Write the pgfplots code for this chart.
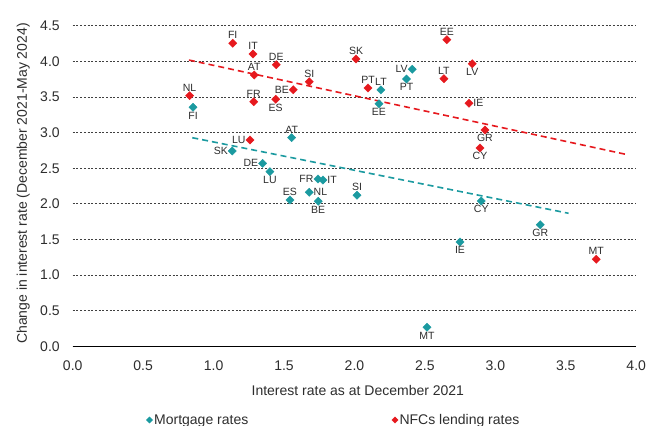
\documentclass[border=0pt]{standalone}
\usepackage{fontspec}
\setmainfont{Liberation Sans}
\usepackage{pgfplots}
\usepackage{pgfplotstable}
\pgfplotsset{compat=1.18}
\definecolor{tealc}{RGB}{27,154,160}
\definecolor{redc}{RGB}{230,25,30}
\definecolor{txt}{RGB}{45,45,45}

% Mortgage rates, grouped by label position
\pgfplotstableread{
x y lab
0.854 3.354 FI
2.370 3.752 PT
2.174 3.405 EE
1.400 2.451 LU
1.743 2.035 BE
2.900 2.039 CY
2.749 1.464 IE
2.515 0.267 MT
3.319 1.707 GR
}\mortN
\pgfplotstableread{
x y lab
2.188 3.599 LT
1.554 2.928 AT
1.542 2.053 ES
2.018 2.119 SI
}\mortS
\pgfplotstableread{
x y lab
2.410 3.888 LV
1.133 2.741 SK
1.348 2.568 DE
1.741 2.348 FR
}\mortE
\pgfplotstableread{
x y lab
1.776 2.334 IT
1.679 2.161 NL
}\mortW

% NFC lending rates, grouped by label position
\pgfplotstableread{
x y lab
1.441 3.467 ES
2.836 3.966 LV
2.926 3.036 GR
2.891 2.783 CY
}\nfcN
\pgfplotstableread{
x y lab
1.136 4.253 FI
1.280 4.102 IT
1.445 3.952 DE
1.289 3.808 AT
0.830 3.517 NL
1.285 3.433 FR
1.679 3.714 SI
2.011 4.032 SK
2.096 3.625 PT
2.656 4.303 EE
2.635 3.756 LT
3.716 1.221 MT
}\nfcS
\pgfplotstableread{
x y lab
1.566 3.601 BE
1.258 2.896 LU
}\nfcE
\pgfplotstableread{
x y lab
2.813 3.411 IE
}\nfcW

\tikzset{
  lblstyle/.style={anchor=#1, font=\fontsize{10.5bp}{12bp}\selectfont, text=txt, inner sep=4.3bp},
}
\pgfplotsset{
  mortstyle/.style={forget plot, only marks, mark=square*, mark size=2.9bp,
    mark options={rotate=45, fill=tealc, draw=tealc},
    nodes near coords, point meta=explicit symbolic,
    every node near coord/.append style={lblstyle=#1}},
  nfcstyle/.style={forget plot, only marks, mark=square*, mark size=2.9bp,
    mark options={rotate=45, fill=redc, draw=redc},
    nodes near coords, point meta=explicit symbolic,
    every node near coord/.append style={lblstyle=#1}},
}

\begin{document}
\begin{tikzpicture}
\path[use as bounding box] (-72.7bp,-79.7bp) rectangle (575.3bp,346.3bp);
\clip (-72.7bp,-79.7bp) rectangle (575.3bp,346.3bp);
\begin{axis}[
  scale only axis, width=563.5bp, height=320.6bp,
  at={(0,0)}, anchor=south west,
  xmin=0, xmax=4, ymin=0, ymax=4.5,
  xtick={0,0.5,1,1.5,2,2.5,3,3.5,4},
  ytick={0,0.5,1,1.5,2,2.5,3,3.5,4,4.5},
  axis x line=bottom, axis y line=left,
  x axis line style={-, line width=1.3bp, black},
  y axis line style={draw=none},
  major tick length=0pt,
  ymajorgrids,
  grid style={black!75, line width=0.7bp, dash pattern=on 2bp off 1.7bp},
  /pgf/number format/fixed, /pgf/number format/fixed zerofill,
  /pgf/number format/precision=1,
  /pgf/number format/assume math mode=true,
  tick label style={font=\fontsize{14bp}{16bp}\selectfont, text=txt},
  xticklabel style={yshift=-11bp},
  yticklabel style={xshift=-9.5bp},
  xlabel={Interest rate as at December 2021},
  ylabel={Change in interest rate (December 2021-May 2024)},
  label style={font=\fontsize{14bp}{16bp}\selectfont, text=txt},
  xlabel style={at={(axis description cs:0.506,-0.1385)}, anchor=center},
  ylabel style={at={(axis description cs:-0.0877,0.508)}, anchor=center},
  legend style={at={(axis description cs:0.1305,-0.2299)}, anchor=west, draw=none, fill=none,
    legend columns=2, font=\fontsize{14bp}{16bp}\selectfont, text=txt,
    /tikz/every even column/.append style={column sep=142bp},
    inner sep=0pt, nodes={inner sep=1.5bp}},
  legend image code/.code={\draw[#1] plot coordinates {(0bp,0bp)};},
  legend cell align=left,
  clip=false,
]
\addlegendimage{only marks, tealc, mark=square*, mark size=2.2bp, mark options={rotate=45}}
\addlegendentry{Mortgage rates}
\addlegendimage{only marks, redc, mark=square*, mark size=2.2bp, mark options={rotate=45}}
\addlegendentry{NFCs lending rates}

\addplot[forget plot, tealc, line width=1.6bp, dash pattern=on 6bp off 4bp] coordinates {(0.849,2.928) (3.520,1.867)};
\addplot[forget plot, redc, line width=1.6bp, dash pattern=on 6bp off 4bp] coordinates {(0.825,4.018) (3.925,2.695)};

\addplot[mortstyle=north] table[x=x, y=y, meta=lab]{\mortN};
\addplot[mortstyle=south] table[x=x, y=y, meta=lab]{\mortS};
\addplot[mortstyle=east] table[x=x, y=y, meta=lab]{\mortE};
\addplot[mortstyle=west] table[x=x, y=y, meta=lab]{\mortW};

\addplot[nfcstyle=north] table[x=x, y=y, meta=lab]{\nfcN};
\addplot[nfcstyle=south] table[x=x, y=y, meta=lab]{\nfcS};
\addplot[nfcstyle=east] table[x=x, y=y, meta=lab]{\nfcE};
\addplot[nfcstyle=west] table[x=x, y=y, meta=lab]{\nfcW};
\end{axis}
\end{tikzpicture}
\end{document}
